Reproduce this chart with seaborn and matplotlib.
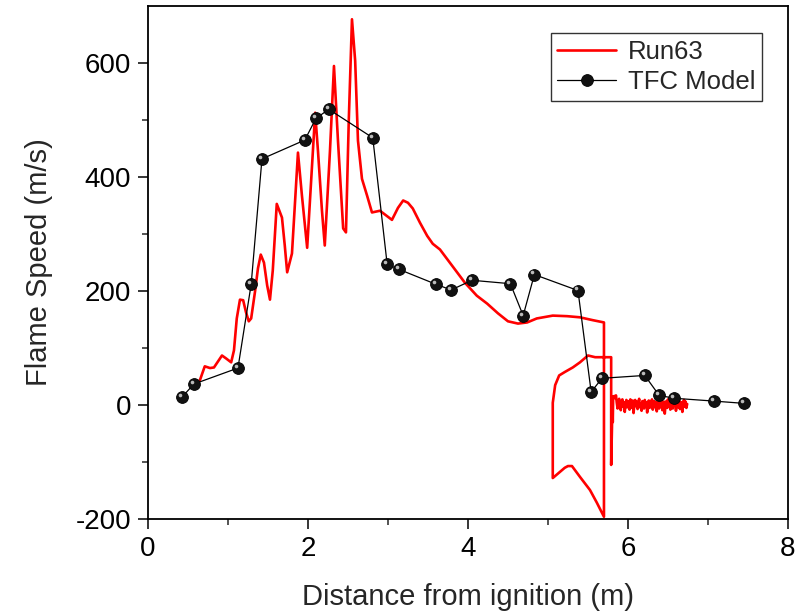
import matplotlib
matplotlib.use("Agg")
import matplotlib.pyplot as plt
import matplotlib.transforms as mtransforms
import seaborn as sns
import pandas as pd

# ---------------- data ----------------
run63_x = [0.65, 0.71, 0.775, 0.825, 0.925, 0.975, 1.04, 1.075, 1.11, 1.15, 1.19, 1.225, 1.26, 1.29,
           1.34, 1.375, 1.41, 1.45, 1.49, 1.525, 1.56, 1.61, 1.675, 1.71, 1.74, 1.8, 1.84, 1.875,
           1.925, 1.99, 2.04, 2.09, 2.125, 2.175, 2.21, 2.275, 2.325, 2.375, 2.44, 2.475, 2.51,
           2.55, 2.59, 2.625, 2.675, 2.74, 2.8, 2.9, 3.05, 3.125, 3.19, 3.25, 3.31, 3.4, 3.49,
           3.56, 3.65, 3.8, 3.96, 4.11, 4.24, 4.375, 4.5, 4.625, 4.74, 4.86, 5.06, 5.24, 5.4,
           5.56, 5.7,
           5.7, 5.61, 5.525, 5.4, 5.3, 5.25, 5.21, 5.06,
           5.06, 5.09, 5.14, 5.21, 5.31, 5.4, 5.5, 5.59, 5.69, 5.79,
           5.79, 5.80, 5.805, 5.81, 5.815]
run63_y = [44, 68, 65, 66, 87, 82, 75, 96, 152, 185, 184, 163, 147, 152,
           201, 240, 264, 250, 210, 185, 236, 353, 329, 280, 233, 266, 359, 443,
           367, 276, 394, 513, 446, 341, 280, 446, 595, 464, 310, 303, 499,
           677, 604, 464, 397, 367, 338, 341, 325, 346, 359, 355, 345, 320, 297,
           283, 273, 245, 215, 192, 178, 161, 147, 143, 145, 152, 157, 156, 154,
           149, 145,
           -196, -171, -149, -126, -107, -107, -110, -128,
           4, 35, 52, 58, 66, 75, 87, 84, 84, 84,
           -105, -40, 10, -30, 15]

noise_x = [5.82, 5.83, 5.84, 5.85, 5.86, 5.87, 5.88, 5.89, 5.90, 5.91, 5.92, 5.93, 5.94, 5.95,
           5.96, 5.97, 5.98, 5.99, 6.00, 6.01, 6.02, 6.03, 6.04, 6.05, 6.06, 6.07, 6.08, 6.09,
           6.10, 6.11, 6.12, 6.13, 6.14, 6.15, 6.16, 6.17, 6.18, 6.19, 6.20, 6.21, 6.22, 6.23,
           6.24, 6.25, 6.26, 6.27, 6.28, 6.29, 6.30, 6.31, 6.32, 6.33, 6.34, 6.35, 6.36, 6.37,
           6.38, 6.39, 6.40, 6.41, 6.42, 6.43, 6.44, 6.45, 6.46, 6.47, 6.48, 6.49, 6.50, 6.51,
           6.52, 6.53, 6.54, 6.55, 6.56, 6.57, 6.58, 6.59, 6.60, 6.61, 6.62, 6.63, 6.64, 6.65,
           6.66, 6.67, 6.68, 6.69, 6.70, 6.71, 6.72, 6.73, 6.74]
noise_y = [14, 16, 12, 17, 4, -6, 8, 11, 2, -9, 6, 10, -3, 5,
           -12, 3, 9, -4, 7, 1, -8, 10, 4, -5, 8, -14, 2, 9,
           -2, 6, -7, 5, 11, -4, 3, -10, 7, 2, -6, 9, -3, 5,
           -13, 4, 8, -5, 6, -1, 10, -8, 3, 7, -4, 5, -11, 2,
           9, -6, 4, -2, 8, -9, 3, 6, -15, 1, 7, -5, 10, -3,
           5, -8, 2, 9, -6, 4, -1, 7, -10, 3, 6, -4, 8, -7,
           2, 5, -12, 4, 9, -3, 6, -5, 2]

tfc_x = [0.425, 0.575, 1.125, 1.29, 1.425, 1.96, 2.1, 2.26, 2.81, 2.99, 3.14, 3.6, 3.79,
         4.05, 4.53, 4.69, 4.83, 5.375, 5.54, 5.675, 6.21, 6.39, 6.575, 7.075, 7.45]
tfc_y = [14, 37, 65, 212, 432, 465, 503, 519, 469, 247, 238, 212, 202,
         219, 213, 157, 229, 201, 23, 47, 52, 17, 12, 7, 3]

x_ticks = [0, 2, 4, 6, 8]
y_ticks = [-200, 0, 200, 400, 600]

run_df = pd.DataFrame({"x": run63_x + noise_x, "y": run63_y + noise_y})
tfc_df = pd.DataFrame({"x": tfc_x, "y": tfc_y})

# ---------------- style ----------------
sns.set_style("ticks")
plt.rcParams["font.family"] = ["Liberation Sans", "DejaVu Sans"]
plt.rcParams["axes.unicode_minus"] = False

fig = plt.figure(figsize=(8.02, 6.15), dpi=100)
ax = fig.add_axes([0.1845, 0.156, 0.798, 0.834])

sns.lineplot(data=run_df, x="x", y="y", sort=False, estimator=None, ax=ax,
             color="#ff0000", linewidth=1.9, label="Run63")
sns.lineplot(data=tfc_df, x="x", y="y", sort=False, estimator=None, ax=ax,
             color="black", linewidth=0.9, marker="o", markersize=8.5,
             markerfacecolor="#111111", markeredgecolor="black", markeredgewidth=0.6,
             label="TFC Model")
# sphere-like highlight on each model marker
hl = mtransforms.offset_copy(ax.transData, fig=fig, x=-1.5, y=1.5, units="points")
ax.plot(tfc_x, tfc_y, linestyle="none", marker="o", markersize=2.6,
        markerfacecolor="#bbbbbb", markeredgecolor="none", transform=hl, zorder=5)

ax.set_xlim(0, 8)
ax.set_ylim(-200, 700)
ax.set_xticks(x_ticks)
ax.set_yticks(y_ticks)
ax.set_xticks([1, 3, 5, 7], minor=True)
ax.set_yticks([-100, 100, 300, 500], minor=True)

ax.tick_params(axis="both", which="major", direction="out", length=7, width=1.1,
               labelsize=20, pad=5, colors="black")
ax.tick_params(axis="both", which="minor", direction="out", length=4.3, width=1.1)
for s in ax.spines.values():
    s.set_visible(True)
    s.set_linewidth(1.3)
    s.set_color("black")

ax.set_xlabel("Distance from ignition (m)", fontsize=21, labelpad=15)
ax.set_ylabel("Flame Speed (m/s)", fontsize=21, labelpad=16)

leg = ax.legend(loc="upper right", bbox_to_anchor=(0.959, 0.947), borderaxespad=0,
                fontsize=18.5, frameon=True, fancybox=False, handlelength=2.3,
                handletextpad=0.45, borderpad=0.25, labelspacing=0.25)
leg.get_frame().set_edgecolor("black")
leg.get_frame().set_linewidth(1.0)

fig.savefig("out.png", dpi=100)
